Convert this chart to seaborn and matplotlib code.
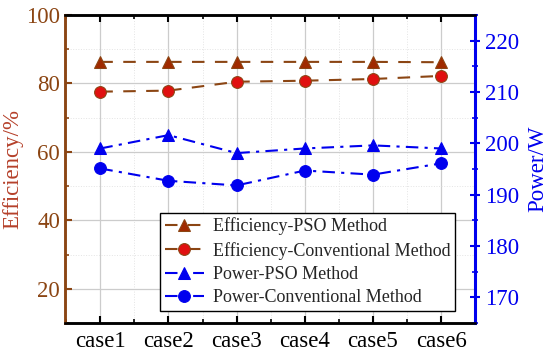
import numpy as np
import pandas as pd
import matplotlib
matplotlib.use("Agg")
import matplotlib.pyplot as plt
from matplotlib.ticker import MultipleLocator, FixedLocator
import seaborn as sns

cases = ["case1", "case2", "case3", "case4", "case5", "case6"]
eff_pso = [86.3, 86.3, 86.3, 86.3, 86.3, 86.2]
eff_conv = [77.6, 77.9, 80.5, 80.8, 81.3, 82.2]
pow_pso = [199.0, 201.6, 198.1, 199.0, 199.6, 199.0]
pow_conv = [195.1, 192.7, 191.8, 194.7, 193.9, 196.1]

sns.set_theme(style="white")
plt.rcParams['font.family'] = ['Liberation Serif', 'DejaVu Serif']
plt.rcParams['mathtext.fontset'] = 'stix'

brown = '#8B4513'
red_lbl = '#b5402a'
blue = '#0000ee'

fig = plt.figure(figsize=(5.5, 3.53), dpi=100)
ax = fig.add_axes([0.118, 0.085, 0.746, 0.8725])
ax2 = ax.twinx()

xpos = np.arange(len(cases))
df = pd.DataFrame({"x": xpos, "eff_pso": eff_pso, "eff_conv": eff_conv,
                   "pow_pso": pow_pso, "pow_conv": pow_conv})

sns.lineplot(data=df, x="x", y="eff_pso", ax=ax, color=brown, lw=1.5,
             marker="^", markersize=8.5, markerfacecolor='#a02a00',
             markeredgecolor=brown, label="Efficiency-PSO Method",
             legend=False)
ax.lines[-1].set_dashes([6, 5])
sns.lineplot(data=df, x="x", y="eff_conv", ax=ax, color=brown, lw=1.5,
             marker="o", markersize=8.5, markerfacecolor='#e01010',
             markeredgecolor=brown, label="Efficiency-Conventional Method",
             legend=False)
ax.lines[-1].set_dashes([6, 5])
sns.lineplot(data=df, x="x", y="pow_pso", ax=ax2, color=blue, lw=1.5,
             marker="^", markersize=8.5, markerfacecolor=blue,
             markeredgecolor=blue, label="Power-PSO Method", legend=False)
ax2.lines[-1].set_dashes([6, 3, 1.5, 3])
sns.lineplot(data=df, x="x", y="pow_conv", ax=ax2, color=blue, lw=1.5,
             marker="o", markersize=8.5, markerfacecolor=blue,
             markeredgecolor=blue, label="Power-Conventional Method", legend=False)
ax2.lines[-1].set_dashes([6, 3, 1.5, 3])

ax.set_xlim(-0.52, 5.5)
ax.set_ylim(10, 100)
ax2.set_ylim(165, 225)

ax.set_xticks(xpos)
ax.set_xticklabels(cases)
ax.xaxis.set_minor_locator(MultipleLocator(0.5))
ax.yaxis.set_major_locator(FixedLocator([20, 40, 60, 80, 100]))
ax.yaxis.set_minor_locator(MultipleLocator(10))
ax2.yaxis.set_major_locator(FixedLocator([170, 180, 190, 200, 210, 220]))
ax2.yaxis.set_minor_locator(MultipleLocator(5))

ax.grid(True, which='major', color='#cccccc', lw=0.9)
ax.grid(True, which='minor', color='#e4e4e4', lw=0.7, ls=':')
ax.set_axisbelow(True)

ax.tick_params(axis='x', which='both', direction='in', top=True, bottom=True,
               labelsize=16.5, colors='black', pad=6)
ax.tick_params(axis='x', which='major', length=5, width=1.5)
ax.tick_params(axis='x', which='minor', length=3, width=1.2)
ax.tick_params(axis='y', which='both', direction='in', left=True, right=False,
               labelsize=16.5, colors=brown, labelcolor=brown)
ax.tick_params(axis='y', which='major', length=5, width=1.5)
ax.tick_params(axis='y', which='minor', length=3, width=1.2)
ax2.tick_params(axis='y', which='both', direction='inout', right=True,
                labelsize=16.5, colors=blue, labelcolor=blue)
ax2.tick_params(axis='y', which='major', length=7, width=1.5)
ax2.tick_params(axis='y', which='minor', length=5, width=1.2)

for a in (ax, ax2):
    for s in a.spines.values():
        s.set_visible(True)
        s.set_linewidth(1.8)
        s.set_color('black')
ax2.spines['left'].set_color(brown)
ax2.spines['right'].set_color(blue)
ax2.spines['right'].set_linewidth(2.2)
ax.spines['left'].set_color(brown)

ax.set_xlabel("")
ax.set_ylabel("Efficiency/%", fontsize=16.5, color=red_lbl, labelpad=2)
ax2.set_ylabel("Power/W", fontsize=16.5, color=blue, labelpad=6)

h1, l1 = ax.get_legend_handles_labels()
h2, l2 = ax2.get_legend_handles_labels()
leg = ax2.legend(h1 + h2, l1 + l2, loc='lower left',
                 bbox_to_anchor=(0.232, 0.04), fontsize=13, frameon=True,
                 fancybox=False, edgecolor='black', framealpha=1,
                 handlelength=2.2, handletextpad=0.5, borderpad=0.25,
                 labelspacing=0.35, borderaxespad=0)
leg.get_frame().set_linewidth(1.0)

fig.savefig("out.png", dpi=100)
